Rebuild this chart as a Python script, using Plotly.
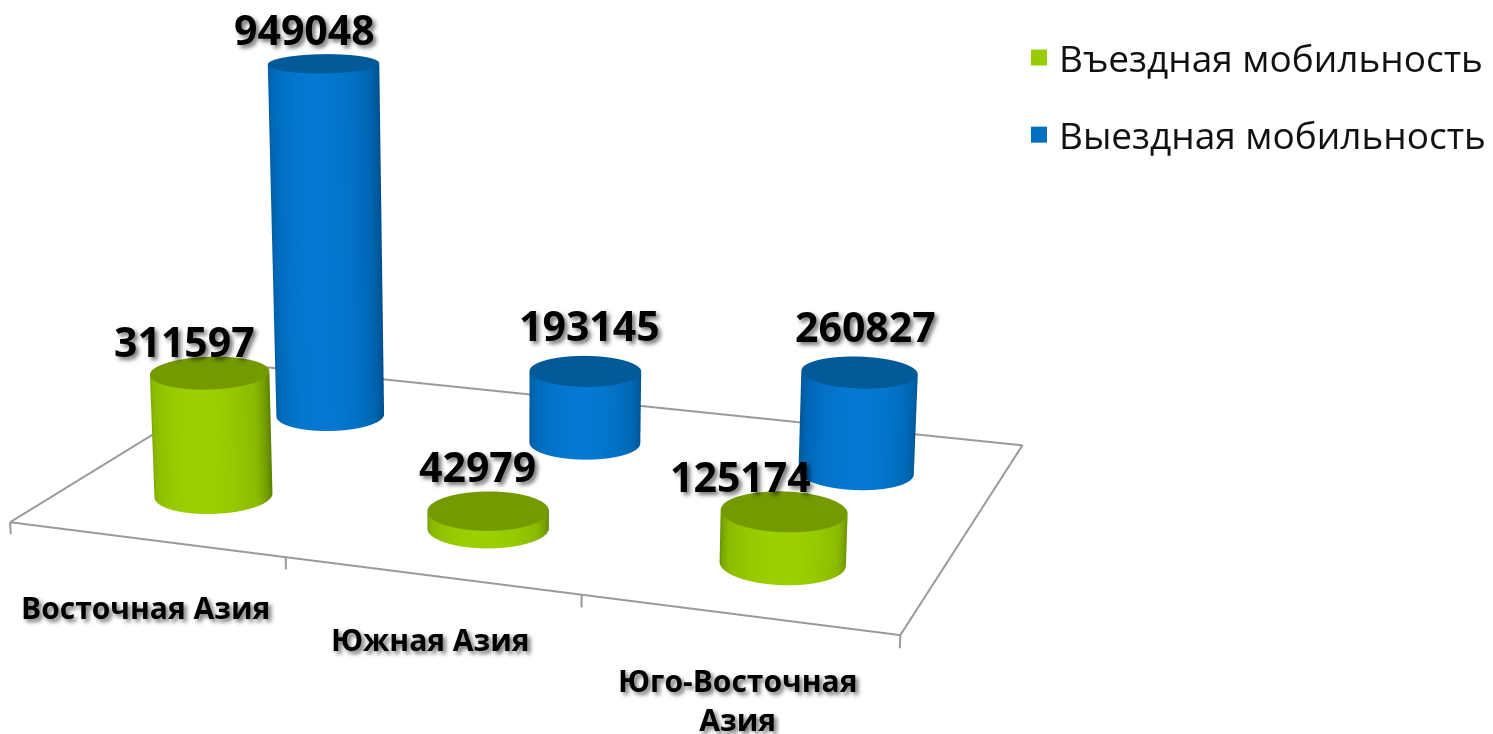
import numpy as np
import plotly.graph_objects as go

categories = ["Восточная Азия", "Южная Азия", "Юго-Восточная<br>Азия"]
inbound = [311597, 42979, 125174]
outbound = [949048, 193145, 260827]
series_names = ["Въездная мобильность", "Выездная мобильность"]

# The reference is a long-lens view: Plotly's 45 degree camera gets there with a
# scene larger than the window, moved so that the window shows the chart.
VW, VH, LEFT, TOP = 2000, 2375, -480, -820
EYE = dict(x=1.05181, y=-2.95631, z=0.80663)
CEN = dict(x=-0.02159, y=0.00221, z=-0.09715)
AY, AZ = 0.66185, 0.51024
ZLO, ZHI = -50000.0, 1050000.0
Y_FRONT, Y_BACK = 0.245, 0.745
X_MID = 0.51
RX = 0.2
RY = RX * (1.0 / 3) / AY

px = lambda x: (x - LEFT) / VW
py = lambda y: 1 - (y - TOP) / VH
thv = np.arctan2(EYE["y"], EYE["x"])

GREEN = [[0, "#5f8400"], [0.5, "#8ab800"], [1, "#9bd000"]]
BLUE = [[0, "#00508f"], [0.5, "#0067b4"], [1, "#0478d2"]]
GTOP, BTOP = "#759a00", "#025a98"
flat = dict(ambient=1, diffuse=0, specular=0, roughness=1, fresnel=0)

fig = go.Figure()

def cyl(cx, cy, h, cs, top):
    th = np.linspace(0, 2 * np.pi, 121)
    zz = np.array([0.0, h])
    X = cx + RX * np.outer(np.ones(2), np.cos(th))
    Y = cy + RY * np.outer(np.ones(2), np.sin(th))
    Z = np.outer(zz, np.ones(len(th)))
    col = np.outer(np.ones(2), np.cos(th - thv + 0.1))
    fig.add_trace(go.Surface(x=X, y=Y, z=Z, surfacecolor=col, colorscale=cs, cmin=0, cmax=1,
                             showscale=False, lighting=flat, hoverinfo="skip"))
    rr = np.array([0, 1.0])
    X = cx + RX * np.outer(rr, np.cos(th))
    Y = cy + RY * np.outer(rr, np.sin(th))
    Z = np.full(X.shape, float(h))
    fig.add_trace(go.Surface(x=X, y=Y, z=Z, surfacecolor=np.zeros(X.shape),
                             colorscale=[[0, top], [1, top]], showscale=False, lighting=flat, hoverinfo="skip"))

shadow = "3px 3px 4px rgba(0,0,0,0.55)"
lab = dict(family="Open Sans", size=41, color="black", weight="bold", shadow=shadow)
catf = dict(family="Open Sans", size=30, color="black", weight="bold", shadow=shadow)
offs_in = [(-25, 32), (-11, 45), (-44, 35)]
offs_out = [(-19, 35), (4, 46), (6, 46)]
cat_shift = [68, 64, 85]

ann = []
for i, v in enumerate(outbound):
    cyl(i + X_MID, Y_BACK, v, BLUE, BTOP)
    ann.append(dict(x=i + X_MID, y=Y_BACK, z=v, text=str(v), showarrow=False, font=lab,
                    xshift=offs_out[i][0], yshift=offs_out[i][1]))
for i, v in enumerate(inbound):
    cyl(i + X_MID, Y_FRONT, v, GREEN, GTOP)
    ann.append(dict(x=i + X_MID, y=Y_FRONT, z=v, text=str(v), showarrow=False, font=lab,
                    xshift=offs_in[i][0], yshift=offs_in[i][1]))
for i, (c_, sh) in enumerate(zip(categories, cat_shift)):
    ann.append(dict(x=i + .5, y=0, z=0, text=c_, showarrow=False, font=catf, yshift=-sh))

fl = dict(color="#9a9a9a", width=4)
fig.add_trace(go.Scatter3d(x=[0, 3, 3, 0, 0], y=[0, 0, 1, 1, 0], z=[0, 0, 0, 0, 0], mode="lines",
                           line=fl, hoverinfo="skip", showlegend=False))
for t in range(4):
    fig.add_trace(go.Scatter3d(x=[t, t], y=[0, 0], z=[0, -30000], mode="lines", line=fl,
                               hoverinfo="skip", showlegend=False))
for n, c_ in zip(series_names, ["#99cc00", "#0070c0"]):
    fig.add_trace(go.Scatter3d(x=[None], y=[None], z=[None], mode="markers", name=n, legendgroup=n,
                               marker=dict(symbol="square", size=16, color=c_)))

hid = dict(visible=False)
fig.update_layout(
    width=VW, height=VH, margin=dict(l=0, r=0, t=0, b=0), paper_bgcolor="white",
    font=dict(family="Open Sans"),
    legend=dict(x=px(1019), y=py(27), xanchor="left", yanchor="top", font=dict(size=37, color="#111"),
                bgcolor="rgba(0,0,0,0)", tracegroupgap=26),
    scene=dict(
        domain=dict(x=[0, 1], y=[0, 1]), aspectmode="manual", aspectratio=dict(x=1, y=AY, z=AZ),
        xaxis=dict(range=[0, 3], **hid), yaxis=dict(range=[0, 1], **hid), zaxis=dict(range=[ZLO, ZHI], **hid),
        camera=dict(eye=EYE, center=CEN, up=dict(x=0, y=0, z=1), projection=dict(type="perspective")),
        annotations=ann, bgcolor="white"))
fig.write_html("out.html", config=dict(displayModeBar=False),
    post_script=f"document.body.style.margin='0';document.body.style.overflow='hidden';"
                f"var g=document.getElementsByClassName('plotly-graph-div')[0];g.style.position='absolute';"
                f"g.style.left='{LEFT}px';g.style.top='{TOP}px';")
